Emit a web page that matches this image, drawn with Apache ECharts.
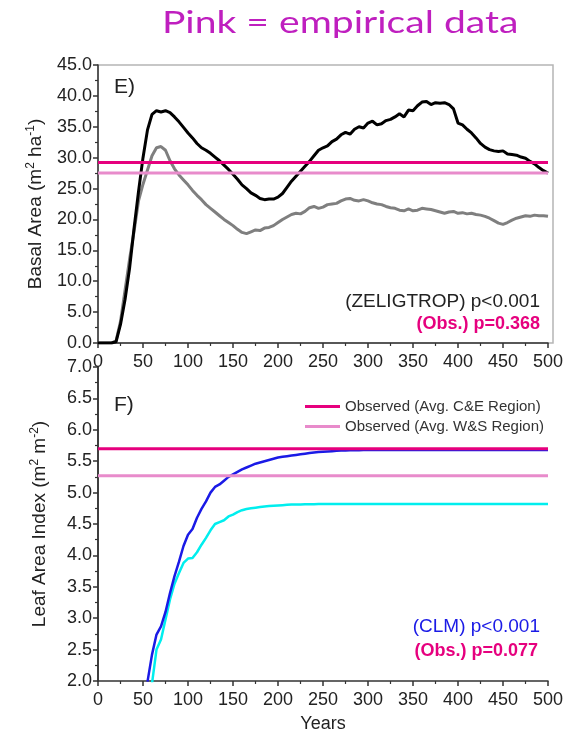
<!DOCTYPE html>
<html>
<head>
<meta charset="utf-8">
<script src="https://cdn.jsdelivr.net/npm/echarts/dist/echarts.min.js"></script>
<style>
html,body{margin:0;padding:0;background:#fff;}
#chart{width:571px;height:733px;}
</style>
</head>
<body>
<div id="chart"></div>
<script>
// ---- DATA ----
const years = [0,5,10,15,20,25,30,35,40,45,50,55,60,65,70,75,80,85,90,95,100,
  105,110,115,120,125,130,135,140,145,150,155,160,165,170,175,180,185,190,195,200,
  205,210,215,220,225,230,235,240,245,250,255,260,265,270,275,280,285,290,295,300,
  305,310,315,320,325,330,335,340,345,350,355,360,365,370,375,380,385,390,395,400,
  405,410,415,420,425,430,435,440,445,450,455,460,465,470,475,480,485,490,495,500];

// Panel E: basal area (m2 ha-1), ZELIGTROP
const zeligCE = [0,0,0,0,0.2,3,7,12,18.5,24.5,30,34.5,37,37.6,37.4,37.6,37.3,36.6,35.8,34.9,34.0,
  33.2,32.3,31.6,31.2,30.7,30.1,29.5,28.8,28.1,27.3,26.5,25.6,25.0,24.3,23.9,23.4,23.2,23.3,23.3,23.6,
  24.2,25.2,26.2,27.0,27.8,28.6,29.4,30.3,31.2,31.6,31.9,32.6,33.0,33.7,34.1,33.8,34.6,35.0,34.8,35.6,
  35.9,35.3,35.5,36.0,36.2,36.6,37.1,36.6,37.7,37.6,38.4,39.0,39.1,38.6,38.9,38.8,38.9,38.6,37.9,35.6,
  35.3,34.6,34.0,33.2,32.3,31.7,31.3,31.1,31.0,31.1,30.6,30.5,30.4,30.1,29.9,29.4,29.0,28.4,27.9,27.5];
const zeligWS = [0,0,0,0,0.3,3.5,8.5,13.5,18,23,25.7,28,30.3,31.6,31.8,31.2,29.5,28.2,27.2,26.4,25.6,
  24.7,23.9,23.2,22.4,21.8,21.2,20.6,20.0,19.5,19.0,18.4,17.9,17.7,18.0,18.3,18.2,18.6,18.7,19.0,19.5,
  20.0,20.4,20.8,21.0,20.9,21.3,21.9,22.1,21.8,22.0,22.4,22.5,22.6,23.0,23.3,23.4,23.1,23.0,23.2,23.0,
  22.7,22.5,22.4,22.1,21.9,21.8,21.5,21.4,21.7,21.4,21.5,21.8,21.7,21.6,21.4,21.2,21.0,21.2,21.3,21.0,
  21.1,20.9,21.0,20.8,20.7,20.5,20.2,19.8,19.4,19.2,19.5,19.9,20.2,20.4,20.6,20.5,20.7,20.6,20.6,20.5];
const obsBA = { ce: 29.2, ws: 27.5 };

// Panel F: leaf area index (m2 m-2), CLM
const clmCE = [null,null,null,null,null,null,null,null,null,null,null,1.99,2.42,2.74,2.87,3.1,3.4,3.67,3.9,4.15,4.33,
  4.42,4.6,4.74,4.86,5.0,5.09,5.13,5.19,5.25,5.29,5.33,5.37,5.40,5.43,5.46,5.48,5.50,5.52,5.54,5.56,
  5.57,5.58,5.59,5.60,5.61,5.62,5.63,5.64,5.645,5.65,5.655,5.66,5.665,5.67,5.672,5.674,5.675,5.676,5.677,5.678,
  5.679,5.68,5.68,5.68,5.68,5.68,5.68,5.68,5.68,5.68,5.68,5.68,5.68,5.68,5.68,5.68,5.68,5.68,5.68,5.68,
  5.68,5.68,5.68,5.68,5.68,5.68,5.68,5.68,5.68,5.68,5.68,5.68,5.68,5.68,5.68,5.68,5.68,5.68,5.68,5.68];
const clmWS = [null,null,null,null,null,null,null,null,null,null,null,null,1.96,2.5,2.66,2.98,3.3,3.55,3.72,3.88,3.95,
  3.96,4.05,4.17,4.28,4.40,4.50,4.53,4.56,4.62,4.65,4.69,4.72,4.74,4.75,4.76,4.77,4.78,4.785,4.79,4.795,
  4.80,4.805,4.81,4.81,4.812,4.814,4.815,4.816,4.817,4.818,4.819,4.82,4.82,4.82,4.82,4.82,4.82,4.82,4.82,4.82,
  4.82,4.82,4.82,4.82,4.82,4.82,4.82,4.82,4.82,4.82,4.82,4.82,4.82,4.82,4.82,4.82,4.82,4.82,4.82,4.82,
  4.82,4.82,4.82,4.82,4.82,4.82,4.82,4.82,4.82,4.82,4.82,4.82,4.82,4.82,4.82,4.82,4.82,4.82,4.82,4.82];
const obsLAI = { ce: 5.7, ws: 5.27 };

const xRange = [0, 500];
const baRange = [0, 45];
const laiRange = [2, 7];

const nameCE = 'Observed (Avg. C&E Region)';
const nameWS = 'Observed (Avg. W&S Region)';

// ---- STYLE ----
const FONT = '"Liberation Sans", Arial, sans-serif';
const TXT = '#222';
const PINK = '#e6007e';
const LPINK = '#e88bcb';

function pairs(xs, ys) { return xs.map((x, i) => [x, ys[i]]); }
function hline(v) { return [[xRange[0], v], [xRange[1], v]]; }

const supRich = {
  sup: { fontSize: 12, fontFamily: FONT, color: TXT, verticalAlign: 'top', padding: [0, 0, 9, 0] }
};

const chart = echarts.init(document.getElementById('chart'), null, { renderer: 'canvas' });

const commonX = (gridIndex, showName) => ({
  type: 'value', gridIndex, min: xRange[0], max: xRange[1], interval: 50,
  axisLine: { show: true, lineStyle: { color: '#333', width: 1.5 } },
  axisTick: { show: true, length: 5, lineStyle: { color: '#333', width: 1.5 } },
  minorTick: { show: true, splitNumber: 2, length: 3, lineStyle: { color: '#333', width: 1.2 } },
  axisLabel: { fontFamily: FONT, fontSize: 18, color: TXT, margin: 10 },
  splitLine: { show: false },
  name: showName ? 'Years' : '', nameLocation: 'middle', nameGap: 34,
  nameTextStyle: { fontFamily: FONT, fontSize: 18, color: TXT }
});

const option = {
  animation: false,
  backgroundColor: '#fff',
  legend: {
    orient: 'vertical', left: 300, top: 394, itemWidth: 35, itemHeight: 3, itemGap: 5,
    icon: 'rect', data: [nameCE, nameWS],
    textStyle: { fontFamily: FONT, fontSize: 15, color: '#333', lineHeight: 15 }
  },
  grid: [
    { left: 98, right: 23, top: 65, height: 278, outerBoundsMode: 'none', containLabel: false },
    { left: 98, right: 18, top: 65, height: 278, show: true, borderColor: '#b5b5b5', borderWidth: 1.5, backgroundColor: 'transparent', outerBoundsMode: 'none', containLabel: false },
    { left: 98, right: 23, top: 367, height: 314, outerBoundsMode: 'none', containLabel: false },
    { left: 98, right: 18, top: 367, height: 314, outerBoundsMode: 'none', containLabel: false }
  ],
  xAxis: [
    commonX(0, false),
    { type: 'value', gridIndex: 1, show: false, min: 0, max: 1 },
    commonX(2, true),
    { type: 'value', gridIndex: 3, show: false, min: 0, max: 1 }
  ],
  yAxis: [
    {
      type: 'value', gridIndex: 0, min: baRange[0], max: baRange[1], interval: 5,
      axisLine: { show: true, lineStyle: { color: '#333', width: 1.5 } },
      axisTick: { show: true, length: 5, lineStyle: { color: '#333', width: 1.5 } },
      minorTick: { show: true, splitNumber: 2, length: 3, lineStyle: { color: '#333', width: 1.2 } },
      axisLabel: { fontFamily: FONT, fontSize: 18, color: TXT, margin: 6, formatter: v => v.toFixed(1) },
      splitLine: { show: false },
      name: 'Basal Area (m{sup|2} ha{sup|-1})', nameLocation: 'middle', nameGap: 52, nameRotate: 90,
      nameTextStyle: { fontFamily: FONT, fontSize: 19, color: TXT, rich: supRich }
    },
    { type: 'value', gridIndex: 1, show: false, min: 0, max: 1 },
    {
      type: 'value', gridIndex: 2, min: laiRange[0], max: laiRange[1], interval: 0.5,
      axisLine: { show: true, lineStyle: { color: '#333', width: 1.5 } },
      axisTick: { show: true, length: 5, lineStyle: { color: '#333', width: 1.5 } },
      minorTick: { show: true, splitNumber: 2, length: 3, lineStyle: { color: '#333', width: 1.2 } },
      axisLabel: { fontFamily: FONT, fontSize: 18, color: TXT, margin: 6, formatter: v => v.toFixed(1) },
      splitLine: { show: false },
      name: 'Leaf Area Index (m{sup|2} m{sup|-2})', nameLocation: 'middle', nameGap: 48, nameRotate: 90,
      nameTextStyle: { fontFamily: FONT, fontSize: 19, color: TXT, rich: supRich }
    },
    {
      type: 'value', gridIndex: 3, position: 'right', min: 0, max: 1,
      axisLine: { show: true, lineStyle: { color: '#333', width: 1.5 } },
      axisTick: { show: false }, axisLabel: { show: false }, splitLine: { show: false }
    }
  ],
  series: [
    { type: 'line', name: 'ZELIGTROP C&E', xAxisIndex: 0, yAxisIndex: 0, data: pairs(years, zeligCE),
      showSymbol: false, lineStyle: { color: '#000', width: 3 }, itemStyle: { color: '#000' }, z: 3 },
    { type: 'line', name: 'ZELIGTROP W&S', xAxisIndex: 0, yAxisIndex: 0, data: pairs(years, zeligWS),
      showSymbol: false, lineStyle: { color: '#7f7f7f', width: 3 }, itemStyle: { color: '#7f7f7f' }, z: 2 },
    { type: 'line', name: nameCE, xAxisIndex: 0, yAxisIndex: 0, data: hline(obsBA.ce),
      showSymbol: false, lineStyle: { color: PINK, width: 3 }, itemStyle: { color: PINK }, z: 5 },
    { type: 'line', name: nameWS, xAxisIndex: 0, yAxisIndex: 0, data: hline(obsBA.ws),
      showSymbol: false, lineStyle: { color: LPINK, width: 3 }, itemStyle: { color: LPINK }, z: 4 },

    { type: 'line', name: 'CLM W&S', xAxisIndex: 2, yAxisIndex: 2, data: pairs(years, clmWS),
      showSymbol: false, lineStyle: { color: '#00eeee', width: 2.5 }, itemStyle: { color: '#00eeee' }, z: 2 },
    { type: 'line', name: 'CLM C&E', xAxisIndex: 2, yAxisIndex: 2, data: pairs(years, clmCE),
      showSymbol: false, lineStyle: { color: '#1a1ae6', width: 2.5 }, itemStyle: { color: '#1a1ae6' }, z: 3 },
    { type: 'line', name: nameCE, xAxisIndex: 2, yAxisIndex: 2, data: hline(obsLAI.ce),
      showSymbol: false, lineStyle: { color: PINK, width: 3 }, itemStyle: { color: PINK }, z: 5 },
    { type: 'line', name: nameWS, xAxisIndex: 2, yAxisIndex: 2, data: hline(obsLAI.ws),
      showSymbol: false, lineStyle: { color: LPINK, width: 3 }, itemStyle: { color: LPINK }, z: 4 }
  ],
  graphic: [
    { type: 'text', x: 162, y: 7, scaleX: 1.26, scaleY: 1,
      style: { text: 'Pink = empirical data', font: '31px Lato, "Open Sans", sans-serif', fill: '#bf1fbf' } },
    { type: 'text', left: 114, top: 77, style: { text: 'E)', font: '21px ' + FONT, fill: TXT } },
    { type: 'text', left: 114, top: 395, style: { text: 'F)', font: '21px ' + FONT, fill: TXT } },
    { type: 'text', right: 31, top: 292, style: { text: '(ZELIGTROP) p<0.001', font: '19px ' + FONT, fill: TXT } },
    { type: 'text', right: 31, top: 315, style: { text: '(Obs.) p=0.368', font: 'bold 18px ' + FONT, fill: PINK } },
    { type: 'text', right: 31, top: 617, style: { text: '(CLM) p<0.001', font: '19px ' + FONT, fill: '#1a1ae6' } },
    { type: 'text', right: 33, top: 642, style: { text: '(Obs.) p=0.077', font: 'bold 18px ' + FONT, fill: PINK } }
  ]
};

chart.setOption(option);
</script>
</body>
</html>
